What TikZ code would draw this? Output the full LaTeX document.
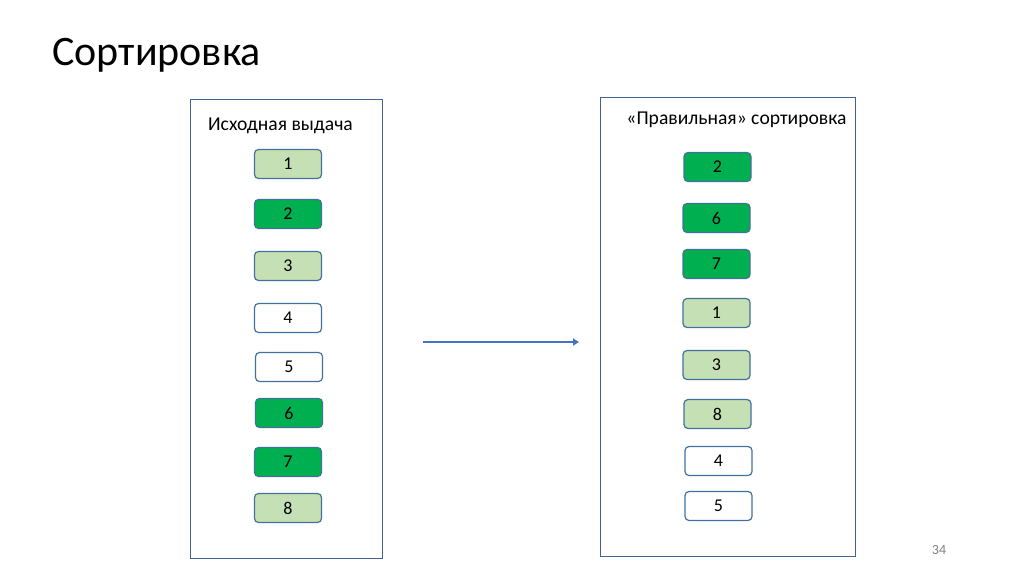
\documentclass[tikz,border=0pt]{standalone}
\usepackage{fontspec}
\setmainfont{Carlito}
\usetikzlibrary{arrows.meta}
\definecolor{lgreen}{HTML}{C5E0B4}
\definecolor{dgreen}{HTML}{00B050}
\definecolor{nborder}{HTML}{41719C}
\definecolor{fborder}{HTML}{44618F}
\definecolor{arrowblue}{HTML}{4472C4}
\tikzset{
  item/.style={draw=nborder, line width=1.2pt, rounded corners=4pt, minimum width=67pt, minimum height=29pt, inner sep=0pt, font=\fontsize{18}{18}\selectfont},
  light/.style={item, fill=lgreen},
  dark/.style={item, fill=dgreen},
  plain/.style={item, fill=white},
  frame/.style={draw=fborder, line width=0.9pt},
  lbl/.style={font=\fontsize{19.6}{21}\selectfont, inner sep=0pt},
}
\begin{document}
\begin{tikzpicture}[x=1pt,y=-1pt]
\useasboundingbox (0,0) rectangle (1024,576);
\node[anchor=west, inner sep=0pt, font=\fontsize{42}{44}\selectfont] (title) at (52,55) {Сортировка};
\node[frame, minimum width=192pt, minimum height=459pt, inner sep=0pt] (lf) at (286,329) {};
\node[frame, minimum width=255pt, minimum height=459pt, inner sep=0pt] (rf) at (727.5,327) {};
\node[lbl] (ltitle) at (280.5,126) {Исходная выдача};
\node[lbl] (rtitle) at (736.5,120) {«Правильная» сортировка};
% left column
\node[light] (l1) at (288,164) {1};
\node[dark]  (l2) at (288,214) {2};
\node[light] (l3) at (288,266) {3};
\node[plain] (l4) at (288,318) {4};
\node[plain] (l5) at (289,367) {5};
\node[dark]  (l6) at (289,413) {6};
\node[dark]  (l7) at (288,462) {7};
\node[light] (l8) at (288,508) {8};
% right column
\node[dark]  (r2) at (717.5,167) {2};
\node[dark]  (r6) at (716.5,218) {6};
\node[dark]  (r7) at (716.5,264) {7};
\node[light] (r1) at (716.5,313) {1};
\node[light] (r3) at (716.5,365) {3};
\node[light] (r8) at (717.5,414) {8};
\node[plain] (r4) at (718.5,461) {4};
\node[plain] (r5) at (718.5,506) {5};
% arrow
\coordinate (as) at (423,342);
\coordinate (ae) at (579,342);
\draw[arrowblue, line width=2.5pt, -{Triangle[length=6pt,width=7pt]}] (as) -- (ae);
\node[font=\fontsize{14}{14}\selectfont, text=gray, inner sep=0pt] (pg) at (939,550) {34};
\end{tikzpicture}
\end{document}
